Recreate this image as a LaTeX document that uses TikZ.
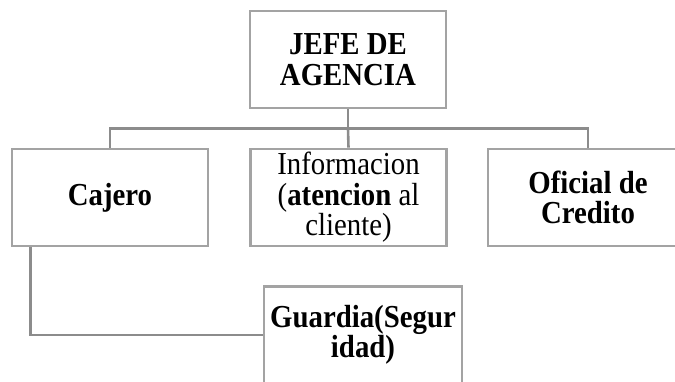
\documentclass[tikz,border=0pt]{standalone}
\usepackage{fontspec}
\setmainfont[FakeStretch=0.9]{Liberation Serif}
\definecolor{boxgray}{RGB}{163,163,163}
\definecolor{linegray}{RGB}{140,140,140}
\begin{document}
\begin{tikzpicture}[x=1pt,y=-1pt,
  box/.style={draw=boxgray, line width=2.6pt, fill=white, minimum width=196pt, minimum height=97pt, inner sep=0pt, align=center, font=\fontsize{32}{30.5}\selectfont},
  conn/.style={draw=linegray, line width=2.6pt}]
\useasboundingbox (0,0) rectangle (675,381);
\clip (0,0) rectangle (675,381);
\coordinate (bus) at (348,128.5);
\node[box] (jefe) at (348,59.5) {\textbf{JEFE DE}\\\textbf{AGENCIA}};
\node[box] (caj) at (110,197.5) {\textbf{Cajero}};
\node[box] (info) at (348.5,197.5) {Informacion\\(\textbf{atencion} al\\cliente)};
\node[box, minimum width=200pt] (ofi) at (588,197.5) {\textbf{Oficial de}\\\textbf{Credito}};
\node[box, minimum width=198pt] (guard) at (363,335) {\textbf{Guardia(Segur}\\\textbf{idad)}};
\draw[conn] (jefe.south) -- (bus);
\draw[conn] (caj.north) |- (bus) -| (ofi.north);
\draw[conn] (bus) -- (info.north);
\draw[conn] ([xshift=20pt]caj.south west) |- (guard.west);
\end{tikzpicture}
\end{document}
